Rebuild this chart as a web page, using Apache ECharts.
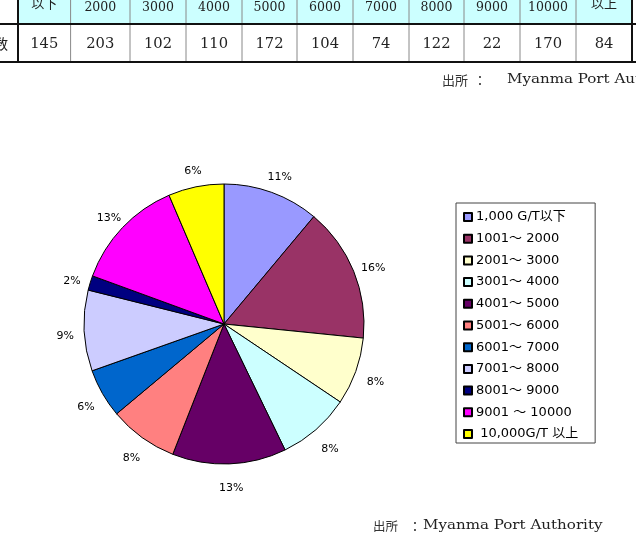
<!doctype html>
<html lang="ja">
<head>
<meta charset="utf-8">
<title>船舶トン数別</title>
<script src="https://cdn.jsdelivr.net/npm/echarts@6/dist/echarts.min.js"></script>
<style>
  html, body { margin: 0; padding: 0; background: #fff; }
  #main { width: 636px; height: 544px; }
</style>
</head>
<body>
<div id="main"></div>
<script>
    // 凡例・データ
    var classes = ['1,000 G/T以下', '1001～ 2000', '2001～ 3000', '3001～ 4000', '4001～ 5000',
        '5001～ 6000', '6001～ 7000', '7001～ 8000', '8001～ 9000', '9001 ～ 10000', ' 10,000G/T 以上'];
    var counts = [145, 203, 102, 110, 172, 104, 74, 122, 22, 170, 84];
    var colors = ['#9999ff', '#993366', '#ffffcc', '#ccffff', '#660066', '#ff8080',
        '#0066cc', '#ccccff', '#000080', '#ff00ff', '#ffff00'];
    // 上の表（切れている部分）
    var headLabels = ['以下', '2000', '3000', '4000', '5000', '6000', '7000', '8000', '9000', '10000', '以上'];
    var rowLabel = '数';
    var sourceText = 'Myanma Port Authority';

    var myChart = echarts.init(document.getElementById('main'));

    var pieData = [];
    for (var i = 0; i < counts.length; i++) {
        pieData.push({name: classes[i], value: counts[i], itemStyle: {color: colors[i]}});
    }

    // 表の罫線位置
    var colEdges = [18, 70.6, 130, 186, 242, 297, 353, 409, 464, 520, 576, 632];
    var serif = '"DejaVu Serif", "Liberation Serif", serif';
    var cjk = '"Noto Sans CJK JP", sans-serif';
    var g = [];
    g.push({type: 'rect', shape: {x: 18, y: 0, width: 614, height: 24}, style: {fill: '#ccffff'}, z: 1});
    for (var c = 0; c < headLabels.length; c++) {
        var cx = (colEdges[c] + colEdges[c + 1]) / 2;
        var isNum = /^\d+$/.test(headLabels[c]);
        g.push({type: 'text', x: cx, y: isNum ? 7.5 : 3, z: 3,
            style: {text: headLabels[c], fill: '#222', align: 'center', verticalAlign: 'middle',
                font: isNum ? '12.5px ' + serif : '13px ' + cjk}});
        g.push({type: 'text', x: cx, y: 44, z: 3, scaleX: 1.05,
            style: {text: String(counts[c]), fill: '#222', align: 'center', verticalAlign: 'middle',
                font: '14px ' + serif}});
    }
    for (var e = 1; e < colEdges.length - 1; e++) {
        g.push({type: 'line', shape: {x1: colEdges[e], y1: 0, x2: colEdges[e], y2: 62}, z: 2,
            style: {stroke: '#888', lineWidth: 1}});
    }
    g.push({type: 'line', shape: {x1: 0, y1: 24, x2: 636, y2: 24}, z: 2, style: {stroke: '#111', lineWidth: 2}});
    g.push({type: 'line', shape: {x1: 0, y1: 62, x2: 636, y2: 62}, z: 2, style: {stroke: '#111', lineWidth: 2}});
    g.push({type: 'line', shape: {x1: 18, y1: 0, x2: 18, y2: 62}, z: 2, style: {stroke: '#111', lineWidth: 2}});
    g.push({type: 'line', shape: {x1: 632, y1: 0, x2: 632, y2: 62}, z: 2, style: {stroke: '#111', lineWidth: 2}});
    g.push({type: 'text', x: 1, y: 44, z: 3,
        style: {text: rowLabel, fill: '#222', align: 'center', verticalAlign: 'middle', font: '14px ' + cjk}});
    // 出所
    g.push({type: 'text', x: 442, y: 80, style: {text: '出所', fill: '#333', verticalAlign: 'middle', font: '13px ' + cjk}});
    g.push({type: 'text', x: 480, y: 80, style: {text: '：', fill: '#333', align: 'center', verticalAlign: 'middle', font: '13px ' + cjk}});
    g.push({type: 'text', x: 507, y: 80, scaleX: 1.16, style: {text: sourceText, fill: '#222', verticalAlign: 'middle', font: '13px ' + serif}});
    g.push({type: 'text', x: 373, y: 526, style: {text: '出所', fill: '#333', verticalAlign: 'middle', font: '12.5px ' + cjk}});
    g.push({type: 'text', x: 415, y: 526, style: {text: '：', fill: '#333', align: 'center', verticalAlign: 'middle', font: '13px ' + cjk}});
    g.push({type: 'text', x: 423, y: 526, scaleX: 1.16, style: {text: sourceText, fill: '#222', verticalAlign: 'middle', font: '13px ' + serif}});

    var option = {
        backgroundColor: '#fff',
        animation: false,
        legend: {
            orient: 'vertical',
            left: 456,
            top: 203,
            icon: 'rect',
            itemWidth: 8,
            itemHeight: 8,
            itemGap: 7.7,
            padding: [7, 17, 2, 7],
            borderColor: '#444',
            borderWidth: 1,
            data: classes,
            textStyle: {
                fontFamily: '"DejaVu Sans", "Noto Sans CJK JP", sans-serif',
                fontSize: 13,
                lineHeight: 14,
                color: '#000',
                padding: [0, 0, 0, -1]
            }
        },
        graphic: g,
        series: [{
            type: 'pie',
            center: [224, 324],
            radius: 140,
            startAngle: 90,
            clockwise: true,
            label: {show: false},
            labelLine: {show: false},
            itemStyle: {borderColor: '#000', borderWidth: 1},
            emphasis: {disabled: true},
            data: pieData
        }, {
            // パーセント表示用の透明リング
            type: 'pie',
            center: [225, 328],
            radius: [140, 174],
            startAngle: 90,
            silent: true,
            itemStyle: {color: 'transparent', borderWidth: 0},
            labelLine: {show: false},
            label: {
                show: true,
                position: 'inside',
                color: '#000',
                fontFamily: '"DejaVu Sans", sans-serif',
                fontSize: 11,
                formatter: function (p) {
                    return Math.round(p.percent) + '%';
                }
            },
            emphasis: {disabled: true},
            data: classes.map(function (n, i) { return {name: n, value: counts[i]}; })
        }]
    };
    myChart.setOption(option);
</script>
</body>
</html>
